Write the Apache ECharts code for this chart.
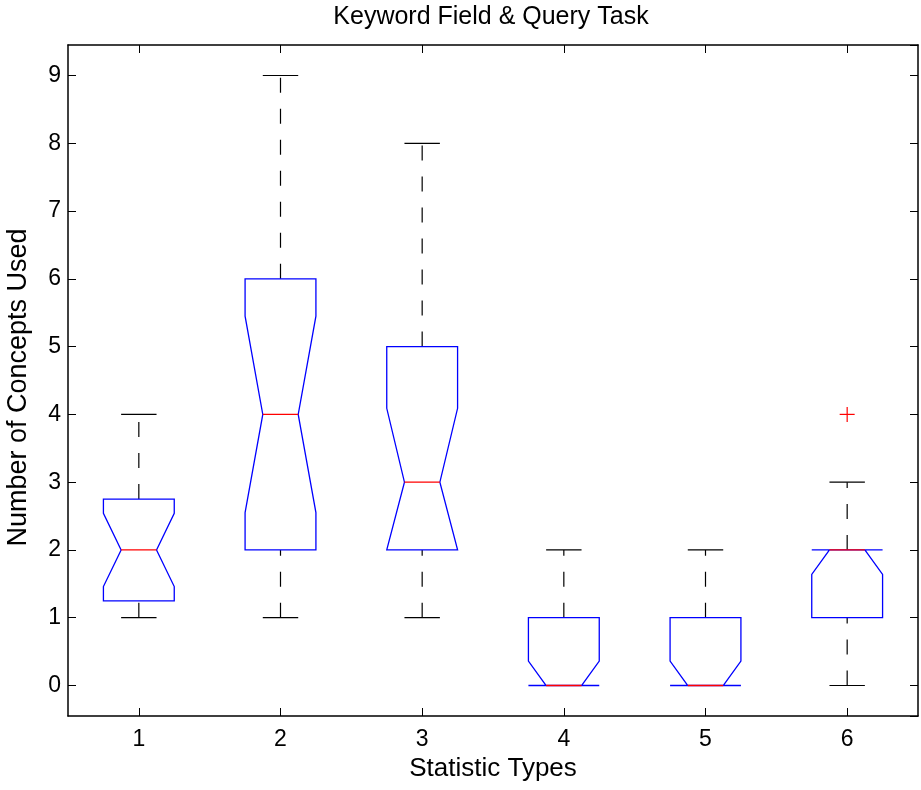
<!DOCTYPE html>
<html>
<head>
<meta charset="utf-8">
<title>Keyword Field &amp; Query Task</title>
<script src="https://cdn.jsdelivr.net/npm/echarts@6/dist/echarts.min.js"></script>
<style>
  html, body { margin: 0; padding: 0; background: #ffffff; }
  #chart { width: 921px; height: 790px; }
</style>
</head>
<body>
<div id="chart"></div>
<script>
// Notched box plot statistics, one entry per statistic type
const categories  = ['1', '2', '3', '4', '5', '6'];
const q1          = [1.25, 2, 2, 0, 0, 1];
const q3          = [2.75, 6, 5, 1, 1, 2];
const medians     = [2, 4, 3, 0, 0, 2];
const notchLow    = [1.46, 2.55, 1.91, -0.36, -0.36, 1.64];
const notchHigh   = [2.54, 5.45, 4.09, 0.36, 0.36, 2.36];
const whiskerLow  = [1, 1, 1, 0, 0, 0];
const whiskerHigh = [4, 9, 8, 2, 2, 3];
const outlierCategory = [5];
const outlierValue    = [4];

const FONT = '"Liberation Sans", Arial, Helvetica, sans-serif';

const boxData = categories.map((c, i) => [
  i, q1[i], q3[i], medians[i], notchLow[i], notchHigh[i], whiskerLow[i], whiskerHigh[i]
]);
const outlierData = outlierCategory.map((c, i) => [c, outlierValue[i]]);

function renderBox(params, api) {
  const idx = api.value(0);
  const y = v => api.coord([idx, v])[1];
  const cx = api.coord([idx, 0])[0];
  const band = api.size([1, 0])[0];
  const hw = band * 0.25;   // half box width
  const nw = band * 0.125;  // half width at the notch waist
  const lo = api.value(1), hi = api.value(2), md = api.value(3);
  // notch ends are kept inside the box
  const nLo = Math.max(api.value(4), lo);
  const nHi = Math.min(api.value(5), hi);
  const wLo = api.value(6), wHi = api.value(7);
  const L = cx - hw, R = cx + hw, IL = cx - nw, IR = cx + nw;
  const dashed = { stroke: '#000', lineWidth: 1.2, lineDash: [15, 16], fill: null };
  const solid = { stroke: '#000', lineWidth: 1.2, fill: null };
  return {
    type: 'group',
    children: [
      { type: 'line', silent: true, z2: 1, shape: { x1: cx, y1: y(hi), x2: cx, y2: y(wHi) }, style: dashed },
      { type: 'line', silent: true, z2: 1, shape: { x1: cx, y1: y(wLo), x2: cx, y2: y(lo) }, style: dashed },
      { type: 'line', silent: true, z2: 1, shape: { x1: IL, y1: y(wHi), x2: IR, y2: y(wHi) }, style: solid },
      { type: 'line', silent: true, z2: 1, shape: { x1: IL, y1: y(wLo), x2: IR, y2: y(wLo) }, style: solid },
      {
        type: 'polygon', silent: true, z2: 2,
        shape: { points: [
          [L, y(lo)], [L, y(nLo)], [IL, y(md)], [L, y(nHi)], [L, y(hi)],
          [R, y(hi)], [R, y(nHi)], [IR, y(md)], [R, y(nLo)], [R, y(lo)]
        ] },
        style: { fill: null, stroke: '#0000ff', lineWidth: 1.3, lineJoin: 'miter' }
      },
      { type: 'line', silent: true, z2: 10, shape: { x1: IL, y1: y(md), x2: IR, y2: y(md) },
        style: { stroke: '#ff0000', lineWidth: 1.3 } }
    ]
  };
}

function renderOutlier(params, api) {
  const p = api.coord([api.value(0), api.value(1)]);
  const s = 7.5;
  const st = { stroke: '#ff0000', lineWidth: 1.2 };
  return {
    type: 'group',
    children: [
      { type: 'line', silent: true, shape: { x1: p[0] - s, y1: p[1], x2: p[0] + s, y2: p[1] }, style: st },
      { type: 'line', silent: true, shape: { x1: p[0], y1: p[1] - s, x2: p[0], y2: p[1] + s }, style: st }
    ]
  };
}

const tickLine = { color: '#000', width: 1 };
const frameLine = { color: '#000', width: 1.5 };
const intLabel = v => (Math.abs(v - Math.round(v)) < 1e-9 ? String(Math.round(v)) : '');

const option = {
  animation: false,
  backgroundColor: '#ffffff',
  title: {
    text: 'Keyword Field & Query Task',
    left: 491, top: 5, padding: 0, textAlign: 'center',
    textStyle: { fontFamily: FONT, fontSize: 25, fontWeight: 'normal', color: '#000' }
  },
  grid: { left: 68, top: 45, width: 850, height: 671, containLabel: false, outerBoundsMode: 'none' },
  xAxis: [
    {
      type: 'category', data: categories, position: 'bottom', boundaryGap: true,
      axisLine: { show: true, onZero: false, lineStyle: frameLine },
      axisTick: { show: true, inside: true, length: 8, alignWithLabel: true, lineStyle: tickLine },
      axisLabel: { fontFamily: FONT, fontSize: 23, color: '#000', margin: 12 },
      splitLine: { show: false },
      name: 'Statistic Types', nameLocation: 'middle', nameGap: 31,
      nameTextStyle: { fontFamily: FONT, fontSize: 26, color: '#000' }
    },
    {
      type: 'category', data: categories, position: 'top', boundaryGap: true,
      axisLine: { show: true, onZero: false, lineStyle: frameLine },
      axisTick: { show: true, inside: true, length: 8, alignWithLabel: true, lineStyle: tickLine },
      axisLabel: { show: false },
      splitLine: { show: false }
    }
  ],
  yAxis: [
    {
      type: 'value', position: 'left', min: -0.45, max: 9.45,
      splitNumber: 10, minInterval: 1, maxInterval: 1,
      axisLine: { show: true, onZero: false, lineStyle: frameLine },
      axisTick: { show: true, inside: true, length: 8, lineStyle: tickLine },
      axisLabel: { fontFamily: FONT, fontSize: 23, color: '#000', margin: 7,
                   formatter: intLabel, showMinLabel: false, showMaxLabel: false },
      splitLine: { show: false },
      name: 'Number of Concepts Used', nameLocation: 'middle', nameGap: 36, nameRotate: 90,
      nameTextStyle: { fontFamily: FONT, fontSize: 27, color: '#000', padding: [0, 14, 0, 0] }
    },
    {
      type: 'value', position: 'right', min: -0.45, max: 9.45,
      splitNumber: 10, minInterval: 1, maxInterval: 1,
      axisLine: { show: true, onZero: false, lineStyle: frameLine },
      axisTick: { show: true, inside: true, length: 8, lineStyle: tickLine },
      axisLabel: { show: false },
      splitLine: { show: false }
    }
  ],
  series: [
    {
      type: 'custom', name: 'boxes', xAxisIndex: 0, yAxisIndex: 0,
      renderItem: renderBox, data: boxData,
      encode: { x: 0, y: [1, 2, 3, 4, 5, 6, 7] }, clip: false
    },
    {
      type: 'custom', name: 'outliers', xAxisIndex: 0, yAxisIndex: 0,
      renderItem: renderOutlier, data: outlierData,
      encode: { x: 0, y: 1 }, clip: false
    }
  ]
};

const chart = echarts.init(document.getElementById('chart'), null, { renderer: 'canvas' });
chart.setOption(option);
</script>
</body>
</html>
